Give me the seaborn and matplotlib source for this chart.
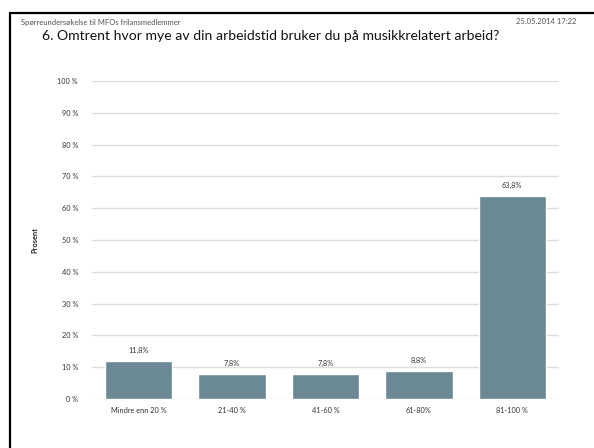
import matplotlib
matplotlib.use("Agg")
import matplotlib.pyplot as plt
import seaborn as sns
import pandas as pd
from matplotlib.lines import Line2D

categories = ["Mindre enn 20 %", "21-40 %", "41-60 %", "61-80%", "81-100 %"]
values = [11.8, 7.8, 7.8, 8.8, 63.8]
value_labels = ["11,8%", "7,8%", "7,8%", "8,8%", "63,8%"]
yticks = [0, 10, 20, 30, 40, 50, 60, 70, 80, 90, 100]
ytick_labels = [f"{t} %" for t in yticks]

sns.set_theme(style="white")
plt.rcParams["font.family"] = ["Lato", "DejaVu Sans"]

W, H = 594, 448
fig = plt.figure(figsize=(W / 100, H / 100), dpi=100)
ax = fig.add_axes([92 / W, 1 - 399 / H, (559 - 92) / W, (399 - 81) / H])

df = pd.DataFrame({"cat": categories, "val": values})
sns.barplot(data=df, x="cat", y="val", color="#6a8994", width=0.72,
            saturation=1, ax=ax, zorder=3)

ax.set_ylim(0, 100)
ax.set_yticks(yticks)
ax.set_yticklabels(ytick_labels, fontsize=5.3, color="#333333")
ax.tick_params(axis="x", labelsize=5.3, colors="#333333", length=0, pad=6)
ax.tick_params(axis="y", length=0, pad=10)
ax.grid(axis="y", color="#dedede", linewidth=1, zorder=0)
ax.set_axisbelow(True)
for s in ax.spines.values():
    s.set_visible(False)
ax.set_xlabel("")
ax.set_ylabel("Prosent", fontsize=5.3, fontweight="bold", color="#222222", labelpad=14)

for i, (v, lab) in enumerate(zip(values, value_labels)):
    ax.text(i, v + 2.3, lab, ha="center", va="bottom", fontsize=5.3, color="#333333")

fig.text(42 / W, 1 - 36 / H, "6. Omtrent hvor mye av din arbeidstid bruker du på musikkrelatert arbeid?",
         fontsize=10.1, ha="left", va="center", color="#111111")
fig.text(21 / W, 1 - 22 / H, "Spørreundersøkelse til MFOs frilansmedlemmer",
         fontsize=5.5, ha="left", va="center", color="#555555")
fig.text(576 / W, 1 - 22 / H, "25.05.2014 17:22",
         fontsize=5.5, ha="right", va="center", color="#555555")

fig.add_artist(Line2D([10 / W, 10 / W], [1 - 13 / H, 0], color="black", linewidth=1.6,
                      transform=fig.transFigure))
fig.add_artist(Line2D([10 / W, 1], [1 - 13 / H, 1 - 13 / H], color="black", linewidth=1.6,
                      transform=fig.transFigure))

fig.savefig("out.png", dpi=100)
